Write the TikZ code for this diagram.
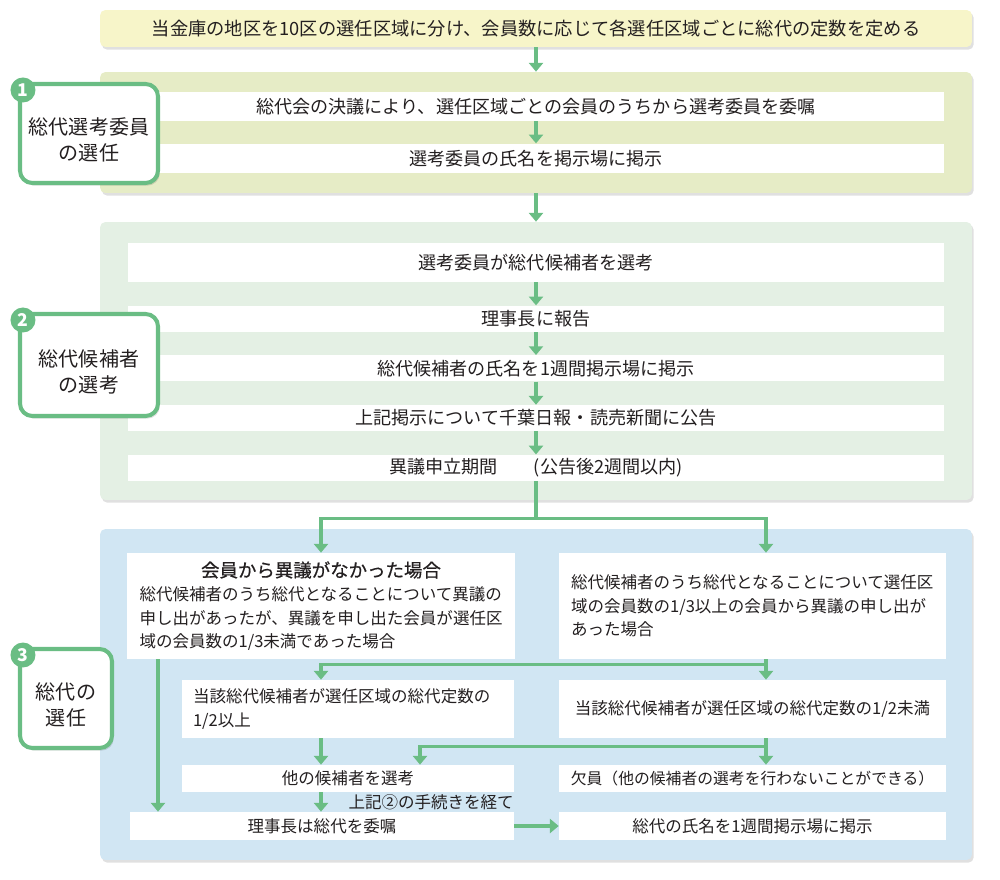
\documentclass[tikz,border=0pt]{standalone}
\usepackage{fontspec}
\setmainfont{Noto Sans CJK JP}
\newfontfamily\headfont{Noto Sans CJK JP}[FakeBold=0.6]
\usetikzlibrary{arrows.meta,positioning,calc,shadows}
\definecolor{flowgreen}{HTML}{6ABD84}
\definecolor{inkgray}{HTML}{231F20}
\definecolor{bannerfill}{HTML}{F7F5C9}
\definecolor{secAfill}{HTML}{E6ECC6}
\definecolor{secBfill}{HTML}{E4F0E4}
\definecolor{secCfill}{HTML}{D1E6F3}
\tikzstyle{panel} = [
  rectangle, rounded corners=3pt, inner sep=0pt, minimum width=17.44cm,
  drop shadow={shadow xshift=1pt, shadow yshift=-1.5pt, fill=black, opacity=0.12}
]
\tikzstyle{block} = [
  rectangle, fill=white, inner sep=0pt, text=inkgray, minimum width=16.32cm,
  minimum height=0.52cm, font=\fontsize{10.3}{12}\selectfont
]
\tikzstyle{small} = [
  rectangle, fill=white, inner sep=0pt, text=inkgray,
  font=\fontsize{9.4}{13.4}\selectfont
]
\tikzstyle{tag} = [
  rectangle, draw=flowgreen, line width=2.3pt, rounded corners=7pt, fill=white,
  drop shadow={shadow xshift=1pt, shadow yshift=-1.5pt, fill=black, opacity=0.12}
]
\tikzstyle{tagtext} = [
  align=center, text=inkgray, yshift=-0.13cm, font=\fontsize{11.4}{14.8}\selectfont
]
\tikzstyle{num} = [
  circle, fill=flowgreen, text=white, inner sep=0pt, minimum size=0.5cm,
  font=\bfseries\fontsize{10}{10}\selectfont
]
\tikzstyle{flow} = [draw=flowgreen, line width=1.8pt]
\tikzstyle{arr} = [flow, -{Triangle[width=8pt,length=5pt]}]

\begin{document}
\begin{tikzpicture}[x=0.02cm, y=-0.02cm]
    \useasboundingbox (0,0) rectangle (1000,879);

    % panels
    \node[panel, fill=secAfill, minimum height=2.42cm] (secA) at (536,132.5) {};
    \node[panel, fill=secBfill, minimum height=5.56cm] (secB) at (536,361) {};
    \node[panel, fill=secCfill, minimum height=6.62cm] (secC) at (536,694.5) {};

    \node[block, fill=bannerfill, minimum width=17.44cm, minimum height=0.74cm,
      rounded corners=3pt, font=\fontsize{10.4}{12}\selectfont,
      drop shadow={shadow xshift=1pt, shadow yshift=-1.5pt, fill=black, opacity=0.12}]
      (top) at (536,28.5) {当金庫の地区を10区の選任区域に分け、会員数に応じて各選任区域ごとに総代の定数を定める};

    % 1
    \node[block, minimum height=0.58cm] (elect) at (536,106.5) {総代会の決議により、選任区域ごとの会員のうちから選考委員を委嘱};
    \node[block, minimum height=0.58cm, below=0.44cm of elect] (post) {選考委員の氏名を掲示場に掲示};
    \node[tag, minimum width=2.76cm, minimum height=1.98cm,
      label={[tagtext]center:総代選考委員\\の選任}] (tagA) at (89,133.5) {};
    \node[num] (numA) at ($(tagA.north west)+(5,8)$) {1};

    % 2
    \node[block, minimum height=0.78cm] (pick) at (536,262.5) {選考委員が総代候補者を選考};
    \node[block, below=0.46cm of pick] (report) {理事長に報告};
    \node[block, below=0.46cm of report] (notice) {総代候補者の氏名を1週間掲示場に掲示};
    \node[block, below=0.46cm of notice] (press) {上記掲示について千葉日報・読売新聞に公告};
    \node[block, below=0.46cm of press] (objection) {異議申立期間　　(公告後2週間以内)};
    \node[tag, minimum width=2.76cm, minimum height=2.04cm,
      label={[tagtext]center:総代候補者\\の選考}] (tagB) at (89,365) {};
    \node[num] (numB) at ($(tagB.north west)+(5,8)$) {2};

    % 3
    \coordinate (colL) at (321,0);
    \coordinate (colR) at (766,0);
    \coordinate (colM) at (420,0);
    \coordinate (colF) at (158,0);
    \node[small, minimum width=7.76cm, minimum height=2.12cm, text width=7.26cm, align=left] (noobj) at (321,606)
      {\makebox[7.26cm][c]{\fontsize{10.5}{13}\headfont 会員から異議がなかった場合}\\
       総代候補者のうち総代となることについて異議の\\
       申し出があったが、異議を申し出た会員が選任区\\
       域の会員数の1/3未満であった場合};
    \node[small, minimum width=7.74cm, minimum height=2.12cm, text width=7.26cm, align=left] (withobj) at (752.5,606)
      {総代候補者のうち総代となることについて選任区\\
       域の会員数の1/3以上の会員から異議の申し出が\\
       あった場合};
    \node[small, minimum width=6.64cm, minimum height=1.16cm, text width=6.2cm, align=left] (half) at (348,709)
      {当該総代候補者が選任区域の総代定数の\\1/2以上};
    \node[small, minimum width=7.74cm, minimum height=1.16cm] (under) at (752.5,709) {当該総代候補者が選任区域の総代定数の1/2未満};
    \node[small, minimum width=6.64cm, minimum height=0.54cm] (other) at (348,778.5) {他の候補者を選考};
    \node[small, minimum width=7.74cm, minimum height=0.54cm, font=\fontsize{9}{12}\selectfont] (vacant) at (752.5,778.5) {欠員（他の候補者の選考を行わないことができる）};
    \node[small, minimum width=7.68cm, minimum height=0.56cm] (appoint) at (322,826) {理事長は総代を委嘱};
    \node[small, minimum width=7.74cm, minimum height=0.56cm] (publish) at (752.5,826) {総代の氏名を1週間掲示場に掲示};
    \node[tag, minimum width=1.84cm, minimum height=1.98cm,
      label={[tagtext]center:総代の\\選任}] (tagC) at (66,698.5) {};
    \node[num] (numC) at ($(tagC.north west)+(5,8)$) {3};

    % connectors
    \draw[arr] (top.south) -- (secA.north);
    \draw[arr] (elect.south) -- (post.north);
    \draw[arr] (secA.south) -- (secB.north);
    \draw[arr] (pick.south) -- (report.north);
    \draw[arr] (report.south) -- (notice.north);
    \draw[arr] (notice.south) -- (press.north);
    \draw[arr] (press.south) -- (objection.north);

    \coordinate (fork) at ($(objection.south)+(0,37)$);
    \draw[flow] (objection.south) -- (fork);
    \draw[arr] (fork) -| (noobj.north -| colL);
    \draw[arr] (fork) -| (withobj.north -| colR);

    \coordinate (forkR) at ($(under.north -| colR)+(0,-15)$);
    \draw[arr] (withobj.south -| colR) -- (under.north -| colR);
    \draw[arr] (forkR) -| (half.north -| colL);

    \coordinate (forkV) at ($(vacant.north -| colR)+(0,-18)$);
    \draw[arr] (under.south -| colR) -- (vacant.north -| colR);
    \draw[arr] (forkV) -| (other.north -| colM);
    \draw[arr] (half.south -| colL) -- (other.north -| colL);
    \draw[arr] (other.south -| colL) -- node[anchor=west, inner sep=0pt, xshift=0.52cm, text=inkgray,
      font=\fontsize{9.4}{12}\selectfont] (via) {上記②の手続きを経て} (appoint.north -| colL);
    \draw[arr] (noobj.south -| colF) -- (appoint.north -| colF);
    \draw[arr] (appoint.east) -- (publish.west);
\end{tikzpicture}
\end{document}
